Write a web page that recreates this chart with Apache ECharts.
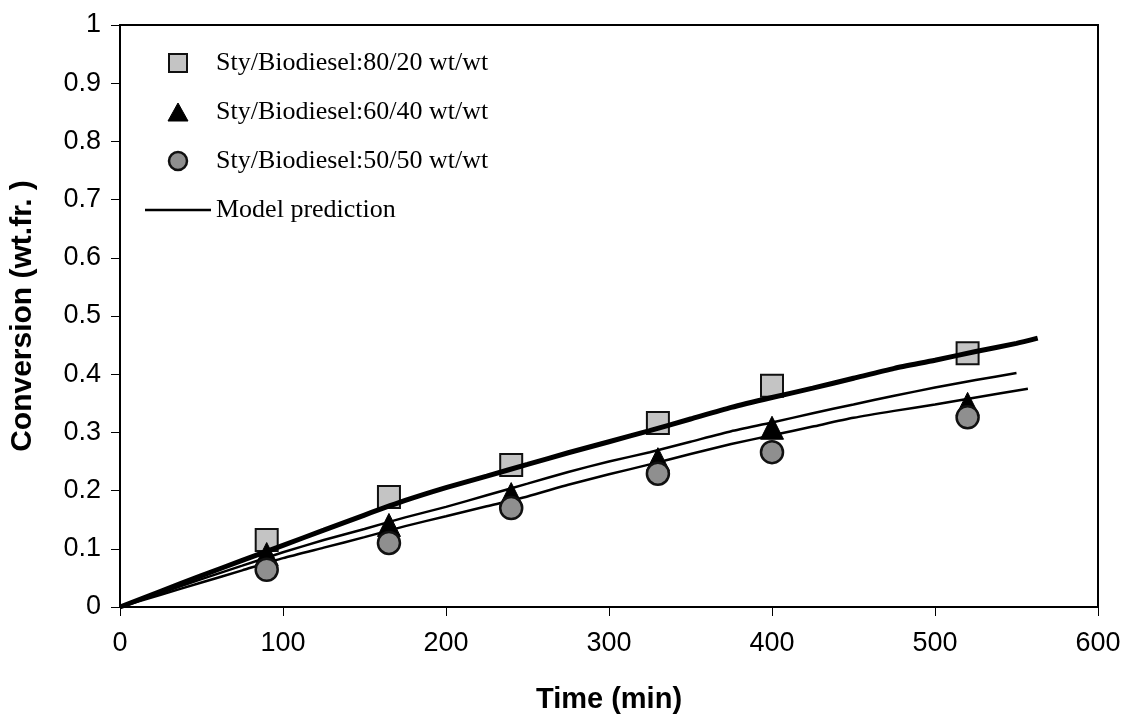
<!DOCTYPE html>
<html>
<head>
<meta charset="utf-8">
<script src="https://cdn.jsdelivr.net/npm/echarts@6/dist/echarts.min.js"></script>
<style>
  html, body { margin: 0; padding: 0; background: #fff; }
  #chart { width: 1133px; height: 722px; }
</style>
</head>
<body>
<div id="chart"></div>
<script>
// Measured conversions (wt. fraction) at each sampling time (min)
const sampleTime = [90, 165, 240, 330, 400, 520];
const conv80 = [0.115, 0.189, 0.244, 0.316, 0.380, 0.436];
const conv60 = [0.091, 0.141, 0.194, 0.254, 0.308, 0.349];
const conv50 = [0.064, 0.110, 0.170, 0.229, 0.266, 0.326];

// Model prediction curves
const modelTime80 = [0, 25, 50, 75, 100, 125, 150, 175, 200, 225, 250, 275, 300, 325, 350, 375, 400, 425, 450, 475, 500, 525, 550, 563];
const model80 = [0, 0.027, 0.054, 0.080, 0.106, 0.132, 0.158, 0.183, 0.205, 0.225, 0.245, 0.265, 0.284, 0.303, 0.323, 0.343, 0.360, 0.376, 0.393, 0.410, 0.424, 0.439, 0.453, 0.462];
const modelTime60 = [0, 25, 50, 75, 100, 125, 150, 175, 200, 225, 250, 275, 300, 325, 350, 375, 400, 425, 450, 475, 500, 525, 550];
const model60 = [0, 0.024, 0.048, 0.071, 0.094, 0.115, 0.134, 0.154, 0.172, 0.192, 0.212, 0.232, 0.250, 0.266, 0.284, 0.302, 0.317, 0.333, 0.348, 0.363, 0.377, 0.390, 0.402];
const modelTime50 = [0, 25, 50, 75, 100, 125, 150, 175, 200, 225, 250, 275, 300, 325, 350, 375, 400, 425, 450, 475, 500, 525, 557];
const model50 = [0, 0.021, 0.042, 0.063, 0.084, 0.102, 0.120, 0.139, 0.156, 0.173, 0.190, 0.210, 0.228, 0.245, 0.263, 0.280, 0.295, 0.310, 0.325, 0.337, 0.348, 0.360, 0.375];

const xTicks = [0, 100, 200, 300, 400, 500, 600];
const yTicks = [0, 0.1, 0.2, 0.3, 0.4, 0.5, 0.6, 0.7, 0.8, 0.9, 1];

const seriesNames = [
  'Sty/Biodiesel:80/20 wt/wt',
  'Sty/Biodiesel:60/40 wt/wt',
  'Sty/Biodiesel:50/50 wt/wt',
  'Model prediction'
];

const zip = (xs, ys) => xs.map((x, i) => [x, ys[i]]);

const sansFont = "'Liberation Sans', Arial, sans-serif";
const serifFont = "'Liberation Serif', 'Times New Roman', serif";

const squareStyle = { color: '#c4c4c4', borderColor: '#111', borderWidth: 2, opacity: 1 };
const triangleStyle = { color: '#000', borderColor: '#000', borderWidth: 1, opacity: 1 };
const circleStyle = { color: '#8f8f8f', borderColor: '#111', borderWidth: 2.5, opacity: 1 };

const modelLine = (name, data, width) => ({
  name: name,
  type: 'line',
  data: data,
  showSymbol: false,
  symbol: 'none',
  smooth: 0.2,
  z: 3,
  color: '#000',
  lineStyle: { color: '#000', width: width },
  emphasis: { disabled: true },
  animation: false
});

const chart = echarts.init(document.getElementById('chart'), null, { renderer: 'canvas' });

chart.setOption({
  backgroundColor: '#fff',
  animation: false,
  grid: {
    left: 120, right: 35, top: 25, bottom: 115,
    show: true, borderColor: '#000', borderWidth: 2, backgroundColor: 'transparent'
  },
  legend: {
    orient: 'vertical',
    left: 145,
    top: 50,
    padding: 0,
    itemWidth: 66,
    itemHeight: 18,
    itemGap: 23,
    selectedMode: false,
    textStyle: { fontFamily: serifFont, fontSize: 26, color: '#000', padding: [0, 0, 0, 0] },
    data: [
      { name: seriesNames[0], icon: 'path://M0,0H10V10H0Z', itemStyle: squareStyle },
      { name: seriesNames[1], icon: 'path://M5,0L10,9H0Z', itemStyle: triangleStyle },
      { name: seriesNames[2], icon: 'path://M5,0A5,5,0,1,1,5,10A5,5,0,1,1,5,0Z', itemStyle: circleStyle },
      { name: seriesNames[3], icon: 'path://M0,0H66V2.6H0Z', itemStyle: { color: '#000', borderWidth: 0 } }
    ]
  },
  xAxis: {
    type: 'value',
    min: xTicks[0],
    max: xTicks[xTicks.length - 1],
    interval: 100,
    name: 'Time (min)',
    nameLocation: 'middle',
    nameGap: 78,
    nameTextStyle: { fontFamily: sansFont, fontSize: 29, fontWeight: 'bold', color: '#000' },
    axisLine: { show: true, lineStyle: { color: '#000', width: 2 } },
    axisTick: { show: true, inside: false, length: 9, lineStyle: { color: '#000', width: 1 } },
    axisLabel: { fontFamily: sansFont, fontSize: 27, color: '#000', margin: 23 },
    splitLine: { show: false }
  },
  yAxis: {
    type: 'value',
    min: yTicks[0],
    max: yTicks[yTicks.length - 1],
    interval: 0.1,
    name: 'Conversion (wt.fr. )',
    nameLocation: 'middle',
    nameGap: 82,
    nameTextStyle: { fontFamily: sansFont, fontSize: 30, fontWeight: 'bold', color: '#000' },
    axisLine: { show: true, lineStyle: { color: '#000', width: 2 } },
    axisTick: { show: true, inside: false, length: 9, lineStyle: { color: '#000', width: 1 } },
    axisLabel: {
      fontFamily: sansFont, fontSize: 27, color: '#000', margin: 19,
      formatter: v => String(Math.round(v * 10) / 10)
    },
    splitLine: { show: false }
  },
  series: [
    {
      name: seriesNames[0],
      type: 'scatter',
      data: zip(sampleTime, conv80),
      symbol: 'rect',
      symbolSize: 22,
      z: 2,
      itemStyle: squareStyle,
      emphasis: { disabled: true }
    },
    modelLine(seriesNames[3], zip(modelTime80, model80), 5),
    modelLine(seriesNames[3], zip(modelTime60, model60), 2.5),
    modelLine(seriesNames[3], zip(modelTime50, model50), 2.5),
    {
      name: seriesNames[1],
      type: 'scatter',
      data: zip(sampleTime, conv60),
      symbol: 'triangle',
      symbolSize: [23, 23],
      z: 4,
      itemStyle: triangleStyle,
      emphasis: { disabled: true }
    },
    {
      name: seriesNames[2],
      type: 'scatter',
      data: zip(sampleTime, conv50),
      symbol: 'circle',
      symbolSize: 22,
      z: 5,
      itemStyle: circleStyle,
      emphasis: { disabled: true }
    }
  ]
});
</script>
</body>
</html>
